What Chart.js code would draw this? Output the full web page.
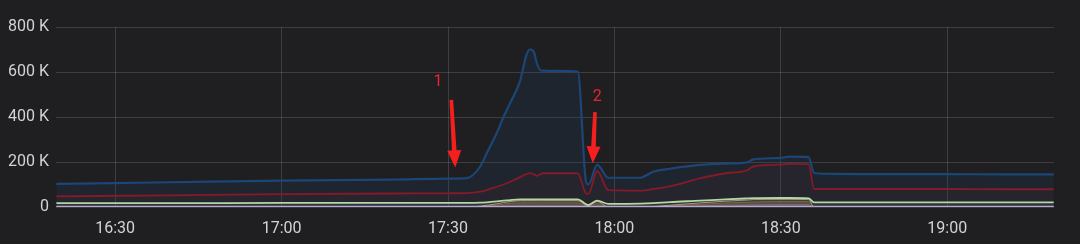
<!DOCTYPE html>
<html>
<head>
<meta charset="utf-8">
<script src="https://cdn.jsdelivr.net/npm/chart.js@4/dist/chart.umd.min.js"></script>
<style>
  html, body { margin: 0; padding: 0; background: #1f1f21; }
  canvas { display: block; }
</style>
</head>
<body>
<canvas id="c" width="1080" height="244"></canvas>
<script>
// time axis: minutes after 16:00
const minutes = [19.4, 40, 60, 80, 90, 93.4, 95.8, 97, 98.8, 100, 101.2, 103, 103.3, 104.2, 104.8, 105.5, 106, 106.6, 107, 110, 113.4, 114.9, 115.3, 116.9, 118.9, 124.6, 127, 130, 135.4, 140, 143.9, 145, 150, 151.5, 155, 156, 160, 170, 180, 190, 199.2];

// values in thousands (K)
const blueSeries   = [103, 110, 117, 122, 126, 128, 180, 240, 329, 400, 462, 560, 590, 680, 700, 688, 640, 609, 606, 605, 602, 110, 100, 187, 130, 130, 157, 170, 187, 193, 198, 212, 218, 224, 222, 151, 147, 146, 146, 145, 145];
const redSeries    = [47, 52, 57, 60, 61, 62, 68, 75, 90, 100, 112, 133, 137, 147, 151, 145, 138, 145, 150, 150, 150, 60, 58, 160, 75, 73, 80, 92, 127, 150, 163, 180, 188, 192, 190, 80, 80, 80, 80, 79, 79];
const greenSeries  = [17, 17, 18, 18, 18, 18, 19, 21, 25, 28, 31, 34, 34, 34, 34, 34, 34, 34, 34, 34, 34, 12, 9, 28, 14, 15, 17, 22, 28, 34, 38, 39, 40, 40, 38, 21, 21, 21, 21, 21, 21];
const tanSeries    = [0, 0, 0, 0, 0, 0, 4, 8, 14, 20, 24, 28, 28, 28, 28, 28, 28, 28, 28, 28, 28, 10, 8, 25, 0, 0, 2, 8, 18, 26, 31, 33, 34, 34, 34, 0, 0, 0, 0, 0, 0];
const brownSeries  = [0, 0, 0, 0, 0, 0, 2, 5, 9, 13, 16, 18, 18, 18, 18, 18, 18, 18, 18, 18, 18, 6, 4, 15, 0, 0, 1, 5, 12, 18, 21, 22, 24, 24, 24, 0, 0, 0, 0, 0, 0];
const purpleSeries = [0, 0, 0, 0, 0, 0, 0, 1, 2, 3, 3, 4, 4, 4, 4, 4, 4, 4, 4, 4, 4, 1, 1, 3, 0, 0, 0, 1, 5, 8, 9, 10, 11, 11, 11, 0, 0, 0, 0, 0, 0];
const lavenderSeries = [0.5, 0.5, 0.5, 0.5, 0.5, 0.5, 0.5, 0.5, 0.5, 0.5, 0.5, 0.5, 0.5, 0.5, 0.5, 0.5, 0.5, 0.5, 0.5, 0.5, 0.5, 0.5, 0.5, 0.5, 0.5, 0.5, 0.5, 0.5, 0.5, 0.5, 0.5, 0.5, 0.5, 0.5, 0.5, 0.5, 0.5, 0.5, 0.5, 0.5, 0.5];

// tick labels
const xTickValues = [30, 60, 90, 120, 150, 180];
const xTickLabels = ['16:30', '17:00', '17:30', '18:00', '18:30', '19:00'];
const yTickValues = [0, 200, 400, 600, 800];

// annotations (data coordinates)
const annotLabels = ['1', '2'];
const annotLabelX = [88.2, 116.9];
const annotLabelY = [556, 489];
const arrowStartX = [90.6, 116.5];
const arrowStartY = [476, 422];
const arrowTipX   = [91.3, 116.1];
const arrowTipY   = [176, 194];

const pts = vals => minutes.map((m, i) => ({ x: m, y: vals[i] }));

const annotPlugin = {
  id: 'annot',
  afterDatasetsDraw(chart) {
    const { ctx, scales: { x, y } } = chart;
    ctx.save();
    for (let i = 0; i < annotLabels.length; i++) {
      const sx = x.getPixelForValue(arrowStartX[i]), sy = y.getPixelForValue(arrowStartY[i]);
      const tx = x.getPixelForValue(arrowTipX[i]), ty = y.getPixelForValue(arrowTipY[i]);
      const ang = Math.atan2(ty - sy, tx - sx);
      const len = Math.hypot(tx - sx, ty - sy);
      ctx.translate(sx, sy);
      ctx.rotate(ang);
      ctx.fillStyle = '#f51f1f';
      const headLen = 17, headW = 7;
      ctx.beginPath();
      ctx.moveTo(0, -1.8);
      ctx.lineTo(len - headLen, -2.3);
      ctx.lineTo(len - headLen, -headW);
      ctx.lineTo(len, 0);
      ctx.lineTo(len - headLen, headW);
      ctx.lineTo(len - headLen, 2.3);
      ctx.lineTo(0, 1.8);
      ctx.closePath();
      ctx.fill();
      ctx.setTransform(1, 0, 0, 1, 0, 0);
      ctx.fillStyle = '#e3282c';
      ctx.font = '16px Roboto';
      ctx.textAlign = 'center';
      ctx.textBaseline = 'middle';
      ctx.fillText(annotLabels[i], x.getPixelForValue(annotLabelX[i]), y.getPixelForValue(annotLabelY[i]));
    }
    ctx.restore();
  }
};

const bgPlugin = {
  id: 'bg',
  beforeDraw(chart) {
    const ctx = chart.ctx;
    ctx.save();
    ctx.fillStyle = '#1f1f21';
    ctx.fillRect(0, 0, chart.width, chart.height);
    ctx.restore();
  }
};

const gridColor = 'rgba(255,255,255,0.14)';
const tickColor = '#d2d2d8';

new Chart(document.getElementById('c'), {
  type: 'line',
  data: {
    datasets: [
      { data: pts(lavenderSeries), borderColor: '#b6a6d6', backgroundColor: 'rgba(182,166,214,0.1)', fill: false, borderWidth: 2.5 },
      { data: pts(greenSeries), borderColor: '#b3d8a4', backgroundColor: 'rgba(90,140,110,0.14)', fill: 'origin', borderWidth: 1.8 },
      { data: pts(tanSeries), borderColor: '#b89a88', backgroundColor: 'rgba(110,100,85,0.25)', fill: 'origin', borderWidth: 1 },
      { data: pts(brownSeries), borderColor: '#8a5a32', backgroundColor: 'rgba(140,90,50,0.45)', fill: 'origin', borderWidth: 1 },
      { data: pts(purpleSeries), borderColor: '#6b63c2', backgroundColor: 'rgba(100,95,190,0.6)', fill: 'origin', borderWidth: 1 },
      { data: pts(redSeries), borderColor: '#851a28', backgroundColor: 'rgba(130,25,40,0.08)', fill: 'origin', borderWidth: 1.8 },
      { data: pts(blueSeries), borderColor: '#1b4675', backgroundColor: 'rgba(28,70,120,0.16)', fill: 'origin', borderWidth: 2.2 }
    ]
  },
  options: {
    responsive: false,
    devicePixelRatio: 1,
    animation: false,
    layout: { padding: { top: 27, right: 26, left: 0, bottom: 0 } },
    elements: { point: { radius: 0 }, line: { cubicInterpolationMode: 'monotone' } },
    plugins: { legend: { display: false }, tooltip: { enabled: false } },
    scales: {
      x: {
        type: 'linear',
        min: 19.33,
        max: 199.25,
        afterBuildTicks: axis => { axis.ticks = xTickValues.map(v => ({ value: v })); },
        afterFit: axis => { axis.height = 37; },
        grid: { color: gridColor, drawTicks: false },
        border: { display: false },
        ticks: {
          color: tickColor,
          font: { family: 'Roboto', size: 16 },
          padding: 12,
          maxRotation: 0,
          autoSkip: false,
          callback: v => { const i = xTickValues.indexOf(v); return i >= 0 ? xTickLabels[i] : ''; }
        }
      },
      y: {
        min: 0,
        max: 800,
        afterBuildTicks: axis => { axis.ticks = yTickValues.map(v => ({ value: v })); },
        afterFit: axis => { axis.width = 56; },
        grid: { color: gridColor, drawTicks: false },
        border: { display: false },
        ticks: {
          color: tickColor,
          font: { family: 'Roboto', size: 16 },
          padding: 7,
          callback: v => v === 0 ? '0' : v + ' K'
        }
      }
    }
  },
  plugins: [bgPlugin, annotPlugin]
});
</script>
</body>
</html>
